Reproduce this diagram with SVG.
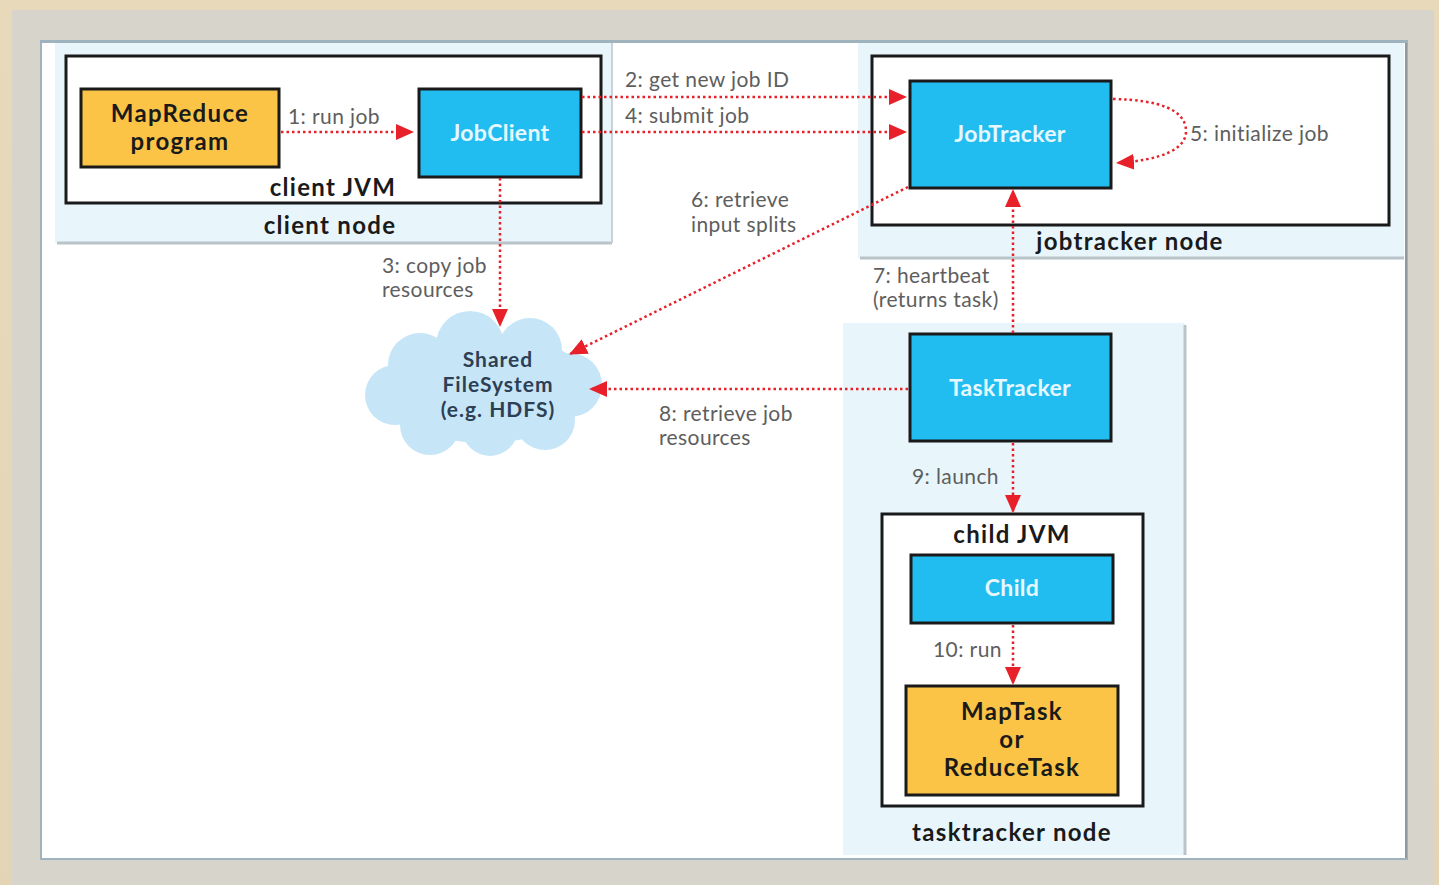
<svg xmlns="http://www.w3.org/2000/svg" width="1439" height="885" viewBox="0 0 1439 885">
<defs>
<marker id="arr" viewBox="0 0 18 16" refX="17" refY="8" markerWidth="18" markerHeight="16" markerUnits="userSpaceOnUse" orient="auto">
<path d="M0,0 L18,8 L0,16 Z" fill="#e8202a"/>
</marker>
<linearGradient id="bg" x1="0" y1="0" x2="0" y2="1">
<stop offset="0" stop-color="#e7d9b9"/>
<stop offset="1" stop-color="#e2d4b4"/>
</linearGradient>
</defs>
<style>
.area{fill:#e8f6fc;}
.jvm{fill:#ffffff;stroke:#1a1a1a;stroke-width:3;}
.blue{fill:#22bdf0;stroke:#1a1a1a;stroke-width:3;}
.orange{fill:#fbc447;stroke:#1a1a1a;stroke-width:3;}
.bt{font-family:"Lato","Open Sans",sans-serif;font-weight:bold;fill:#1a1a1a;text-anchor:middle;font-size:24px;letter-spacing:1.3px;}
.wt{font-family:"Lato","Open Sans",sans-serif;font-weight:bold;fill:#e6f8ff;text-anchor:middle;font-size:23px;letter-spacing:0.3px;}
.lab{font-family:"Lato","Open Sans",sans-serif;fill:#5e5e5e;font-size:21px;letter-spacing:0.4px;}
.cl{font-family:"Lato","Open Sans",sans-serif;font-weight:bold;fill:#2d3f55;text-anchor:middle;font-size:21px;letter-spacing:1px;}
.con{fill:none;stroke:#e8202a;stroke-width:2.5;stroke-dasharray:2.5 3;}
</style>
<rect x="0" y="0" width="1439" height="885" fill="url(#bg)"/>
<rect x="12" y="10" width="1422" height="875" fill="#d7d4cb"/>
<rect x="40" y="40" width="1368" height="820" fill="#9fb3bf"/>
<rect x="42" y="43" width="1364" height="815" fill="#ffffff"/>
<line x1="1406" y1="43" x2="1406" y2="858" stroke="#8e9aa0" stroke-width="2"/>

<g id="client-node">
<rect x="55" y="43" width="557" height="200" class="area"/>
<line x1="57" y1="243" x2="612" y2="243" stroke="#b9c3c9" stroke-width="3"/>
<line x1="612" y1="43" x2="612" y2="243" stroke="#c8d2d8" stroke-width="2"/>
<text x="330" y="234" class="bt">client node</text>
</g>
<g id="client-jvm">
<rect x="66" y="56" width="535" height="147" class="jvm"/>
<text x="333" y="196" class="bt">client JVM</text>
</g>
<g id="mapreduce-program">
<rect x="81" y="89" width="198" height="78" class="orange"/>
<text x="180" y="122" class="bt">MapReduce</text>
<text x="180" y="150" class="bt">program</text>
</g>
<g id="jobclient">
<rect x="419" y="89" width="162" height="88" class="blue"/>
<text x="500" y="141" class="wt">JobClient</text>
</g>

<g id="jobtracker-node">
<rect x="858" y="43" width="546" height="215" class="area"/>
<line x1="860" y1="258" x2="1404" y2="258" stroke="#b9c3c9" stroke-width="3"/>
<text x="1130" y="250" class="bt">jobtracker node</text>
</g>
<g id="jobtracker-box">
<rect x="872" y="56" width="517" height="169" class="jvm"/>
</g>
<g id="jobtracker">
<rect x="910" y="81" width="201" height="107" class="blue"/>
<text x="1010" y="142" class="wt">JobTracker</text>
</g>

<g id="tasktracker-node">
<rect x="843" y="323" width="342" height="532" class="area"/>
<line x1="1185" y1="325" x2="1185" y2="855" stroke="#b9c3c9" stroke-width="3"/>
<text x="1012" y="841" class="bt">tasktracker node</text>
</g>
<g id="tasktracker">
<rect x="910" y="334" width="201" height="107" class="blue"/>
<text x="1010" y="396" class="wt">TaskTracker</text>
</g>
<g id="child-jvm">
<rect x="882" y="514" width="261" height="292" class="jvm"/>
<text x="1012" y="543" class="bt">child JVM</text>
</g>
<g id="child">
<rect x="911" y="555" width="202" height="68" class="blue"/>
<text x="1012" y="596" class="wt">Child</text>
</g>
<g id="maptask">
<rect x="906" y="686" width="212" height="109" class="orange"/>
<text x="1012" y="720" class="bt" font-size="23">MapTask</text>
<text x="1012" y="748" class="bt" font-size="23">or</text>
<text x="1012" y="776" class="bt" font-size="23">ReduceTask</text>
</g>

<g id="shared-filesystem">
<g fill="#c6e6f8">
<ellipse cx="485" cy="388" rx="105" ry="55"/>
<circle cx="420" cy="365" r="32"/>
<circle cx="470" cy="345" r="34"/>
<circle cx="530" cy="350" r="32"/>
<circle cx="570" cy="385" r="32"/>
<circle cx="395" cy="395" r="30"/>
<circle cx="430" cy="425" r="30"/>
<circle cx="490" cy="428" r="28"/>
<circle cx="545" cy="420" r="30"/>
</g>
<text x="498" y="367" class="cl">Shared</text>
<text x="498" y="392" class="cl">FileSystem</text>
<text x="498" y="417" class="cl">(e.g. HDFS)</text>
</g>

<g id="connectors">
<path d="M281,132 L413,132" class="con" marker-end="url(#arr)"/>
<text x="288" y="124" class="lab">1: run job</text>
<path d="M582,97 L906,97" class="con" marker-end="url(#arr)"/>
<text x="625" y="87" class="lab">2: get new job ID</text>
<path d="M582,132 L906,132" class="con" marker-end="url(#arr)"/>
<text x="625" y="123" class="lab">4: submit job</text>
<path d="M1113,99 C1160,100 1185,110 1186,130 C1187,150 1160,160 1117,163" class="con" marker-end="url(#arr)"/>
<text x="1190" y="141" class="lab">5: initialize job</text>
<path d="M500,178 L500,326" class="con" marker-end="url(#arr)"/>
<text x="382" y="273" class="lab">3: copy job</text>
<text x="382" y="297" class="lab">resources</text>
<path d="M908,187 L570,354" class="con" marker-end="url(#arr)"/>
<text x="691" y="207" class="lab">6: retrieve</text>
<text x="691" y="232" class="lab">input splits</text>
<path d="M1013,333 L1013,190" class="con" marker-end="url(#arr)"/>
<text x="873" y="283" class="lab">7: heartbeat</text>
<text x="873" y="307" class="lab">(returns task)</text>
<path d="M908,389 L590,389" class="con" marker-end="url(#arr)"/>
<text x="659" y="421" class="lab">8: retrieve job</text>
<text x="659" y="445" class="lab">resources</text>
<path d="M1013,443 L1013,512" class="con" marker-end="url(#arr)"/>
<text x="912" y="484" class="lab">9: launch</text>
<path d="M1013,625 L1013,684" class="con" marker-end="url(#arr)"/>
<text x="933" y="657" class="lab">10: run</text>
</g>
</svg>
